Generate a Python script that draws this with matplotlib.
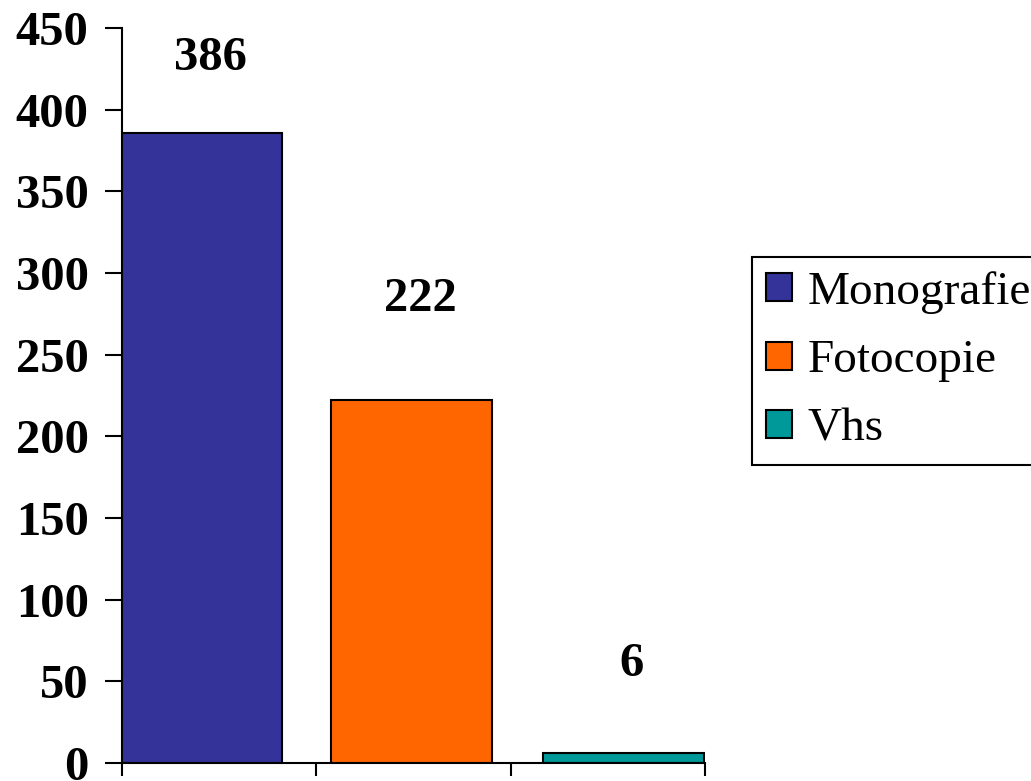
import matplotlib
matplotlib.use("Agg")
import matplotlib.pyplot as plt

categories = ["Monografie", "Fotocopie", "Vhs"]
values = [386, 222, 6]
colors = ["#333399", "#FF6600", "#009999"]

plt.rcParams["font.family"] = ["Liberation Serif", "DejaVu Serif"]

fig = plt.figure(figsize=(10.31, 7.81), dpi=100)
ax = fig.add_axes([122 / 1031, 18 / 781, (705 - 122) / 1031, (763 - 28) / 781])

# bar centres and widths measured in tick units
positions = [0.41, 1.49, 2.58]
width = 0.83
# how far each value label sits above its bar, in points
label_offsets = [54, 73, 64]

for pos, val, col, name, off in zip(positions, values, colors, categories,
                                    label_offsets):
    ax.bar(pos, val, width=width, color=col, edgecolor="black",
           linewidth=1.5, label=name, zorder=2)
    ax.annotate(str(val), xy=(pos, val), xytext=(6, off),
                textcoords="offset points", ha="center", va="center",
                fontsize=35, fontweight="bold")

ax.set_xlim(0, 3)
ax.set_ylim(0, 450)
ax.set_yticks(range(0, 451, 50))
ax.set_xticks([0, 1, 2, 3])
ax.set_xticklabels([])
ax.tick_params(axis="y", labelsize=35, length=12, width=1.5, pad=12)
ax.tick_params(axis="x", length=9, width=1.5)
for lbl in ax.get_yticklabels():
    lbl.set_fontweight("bold")

ax.spines["top"].set_visible(False)
ax.spines["right"].set_visible(False)
ax.spines["left"].set_linewidth(1.5)
ax.spines["bottom"].set_linewidth(1.5)

leg = fig.legend(loc="upper left", bbox_to_anchor=(752 / 1031, 1 - 257 / 781),
                 fontsize=34, frameon=True, fancybox=False, framealpha=1,
                 handlelength=0.55, handleheight=0.55, handletextpad=0.32,
                 labelspacing=0.55, borderpad=0.3, borderaxespad=0)
leg.get_frame().set_edgecolor("black")
leg.get_frame().set_linewidth(1.5)

fig.savefig("out.png", dpi=100)
